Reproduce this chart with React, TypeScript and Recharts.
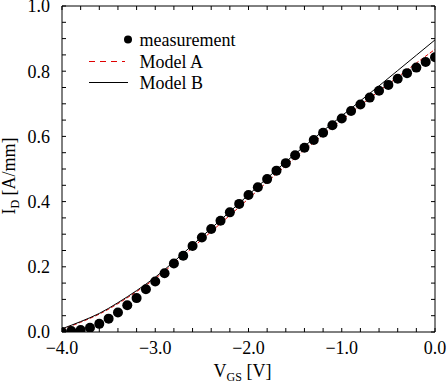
import { ComposedChart, Scatter, Line, XAxis, YAxis, Legend, Label } from 'recharts';

// measured transfer curve, 0.1 V steps
const vgsMeas = [
  -4.0, -3.9, -3.8, -3.7, -3.6, -3.5, -3.4, -3.3, -3.2, -3.1, -3.0, -2.9, -2.8, -2.7,
  -2.6, -2.5, -2.4, -2.3, -2.2, -2.1, -2.0, -1.9, -1.8, -1.7, -1.6, -1.5, -1.4, -1.3,
  -1.2, -1.1, -1.0, -0.9, -0.8, -0.7, -0.6, -0.5, -0.4, -0.3, -0.2, -0.1, 0.0,
];
const idMeas = [
  0.0, 0.003, 0.006, 0.013, 0.025, 0.041, 0.06, 0.082, 0.104, 0.131, 0.155, 0.18, 0.21, 0.234,
  0.264, 0.29, 0.316, 0.341, 0.367, 0.393, 0.42, 0.444, 0.469, 0.495, 0.518, 0.542, 0.565, 0.589,
  0.611, 0.634, 0.655, 0.678, 0.698, 0.719, 0.74, 0.758, 0.777, 0.794, 0.811, 0.828, 0.843,
];

// model curves, 0.2 V steps
const vgsModel = [
  -4.0, -3.8, -3.6, -3.4, -3.2, -3.0, -2.8, -2.6, -2.4, -2.2, -2.0,
  -1.8, -1.6, -1.4, -1.2, -1.0, -0.8, -0.6, -0.4, -0.2, 0.0,
];
const idModelA = [
  0.008, 0.03, 0.055, 0.087, 0.124, 0.164, 0.21, 0.259, 0.308, 0.358, 0.409,
  0.46, 0.51, 0.558, 0.605, 0.65, 0.695, 0.739, 0.782, 0.825, 0.867,
];
const idModelB = [
  0.01, 0.032, 0.057, 0.09, 0.127, 0.168, 0.216, 0.267, 0.318, 0.369, 0.421,
  0.472, 0.522, 0.57, 0.617, 0.663, 0.709, 0.755, 0.802, 0.849, 0.896,
];

const xTicks = [
  -4.0, -3.8, -3.6, -3.4, -3.2, -3.0, -2.8, -2.6, -2.4, -2.2, -2.0,
  -1.8, -1.6, -1.4, -1.2, -1.0, -0.8, -0.6, -0.4, -0.2, 0.0,
];
const yTicks = [
  0, 0.05, 0.1, 0.15, 0.2, 0.25, 0.3, 0.35, 0.4, 0.45, 0.5,
  0.55, 0.6, 0.65, 0.7, 0.75, 0.8, 0.85, 0.9, 0.95, 1.0,
];

const measData = vgsMeas.map((v, i) => ({ vgs: v, id: idMeas[i] }));
const modelAData = vgsModel.map((v, i) => ({ vgs: v, id: idModelA[i] }));
const modelBData = vgsModel.map((v, i) => ({ vgs: v, id: idModelB[i] }));

const FONT = '"Liberation Serif", "Times New Roman", serif';
const tickStyle = { fill: '#000', fontSize: 18, fontFamily: FONT };

const fmtX = (v: number) =>
  Math.abs(v - Math.round(v)) < 1e-6 ? v.toFixed(1).replace('-', '\u2212') : '';
const fmtY = (v: number) =>
  Math.abs(v * 5 - Math.round(v * 5)) < 1e-6 ? v.toFixed(1) : '';
const blank = () => '';

function XTitle({ viewBox }: any) {
  const cx = viewBox.x + viewBox.width / 2 - 6;
  return (
    <text x={cx} y={viewBox.y + 45} textAnchor="middle" fontFamily={FONT} fontSize={18} fill="#000">
      V<tspan fontSize={12} dy={4}>GS</tspan>
      <tspan dy={-4}> [V]</tspan>
    </text>
  );
}

function YTitle({ viewBox }: any) {
  const cy = viewBox.y + viewBox.height / 2 + 7;
  return (
    <text
      transform={`translate(15, ${cy}) rotate(-90)`}
      textAnchor="middle"
      fontFamily={FONT}
      fontSize={18}
      fill="#000"
    >
      I<tspan fontSize={12} dy={4}>D</tspan>
      <tspan dy={-4}> [A/mm]</tspan>
    </text>
  );
}

function LegendBox() {
  const txt = { fontFamily: FONT, fontSize: 18, fill: '#000' };
  return (
    <svg width={180} height={68}>
      <circle cx={48} cy={11.5} r={4} fill="#000" />
      <text x={59.5} y={11.5} dominantBaseline="central" {...txt}>measurement</text>
      <line x1={9} x2={45} y1={33.5} y2={33.5} stroke="#e00000" strokeDasharray="6 5" />
      <text x={59.5} y={33.5} dominantBaseline="central" {...txt}>Model A</text>
      <line x1={9} x2={48} y1={54.5} y2={54.5} stroke="#000" />
      <text x={59.5} y={54.5} dominantBaseline="central" {...txt}>Model B</text>
    </svg>
  );
}

export default function App() {
  return (
    <div style={{ position: 'absolute', left: 0, top: 0, background: '#fff' }}>
      <ComposedChart width={448} height={389} margin={{ top: 6, right: 13, bottom: 0, left: 0 }}>
        <XAxis
          dataKey="vgs"
          type="number"
          domain={[-4, 0]}
          allowDataOverflow
          ticks={xTicks}
          interval={0}
          tickFormatter={fmtX}
          tickSize={-4}
          tickMargin={13}
          height={57}
          tick={tickStyle}
          stroke="#000"
        >
          <Label content={XTitle} />
        </XAxis>
        <XAxis
          xAxisId="top"
          orientation="top"
          mirror
          dataKey="vgs"
          type="number"
          domain={[-4, 0]}
          allowDataOverflow
          ticks={xTicks}
          interval={0}
          tickFormatter={blank}
          tickSize={4}
          stroke="#000"
        />
        <YAxis
          dataKey="id"
          type="number"
          domain={[0, 1]}
          allowDataOverflow
          ticks={yTicks}
          interval={0}
          tickFormatter={fmtY}
          tickSize={-4}
          tickMargin={16}
          width={62}
          tick={tickStyle}
          stroke="#000"
        >
          <Label content={YTitle} />
        </YAxis>
        <YAxis
          yAxisId="right"
          orientation="right"
          mirror
          type="number"
          domain={[0, 1]}
          allowDataOverflow
          ticks={yTicks}
          interval={0}
          tickFormatter={blank}
          tickSize={4}
          stroke="#000"
        />
        <Scatter
          name="measurement"
          data={measData}
          dataKey="id"
          fill="#000"
          isAnimationActive={false}
          shape={(p: any) => <circle cx={p.cx} cy={p.cy} r={5} fill="#000" />}
        />
        <Line
          name="Model A"
          data={modelAData}
          dataKey="id"
          type="monotone"
          stroke="#e00000"
          strokeWidth={1}
          strokeDasharray="4 2"
          dot={false}
          isAnimationActive={false}
        />
        <Line
          name="Model B"
          data={modelBData}
          dataKey="id"
          type="monotone"
          stroke="#000"
          strokeWidth={1}
          dot={false}
          isAnimationActive={false}
        />
        <Legend
          layout="vertical"
          align="center"
          verticalAlign="middle"
          wrapperStyle={{ left: 80, top: 28, width: 180, height: 68 }}
          content={() => <LegendBox />}
        />
      </ComposedChart>
    </div>
  );
}
